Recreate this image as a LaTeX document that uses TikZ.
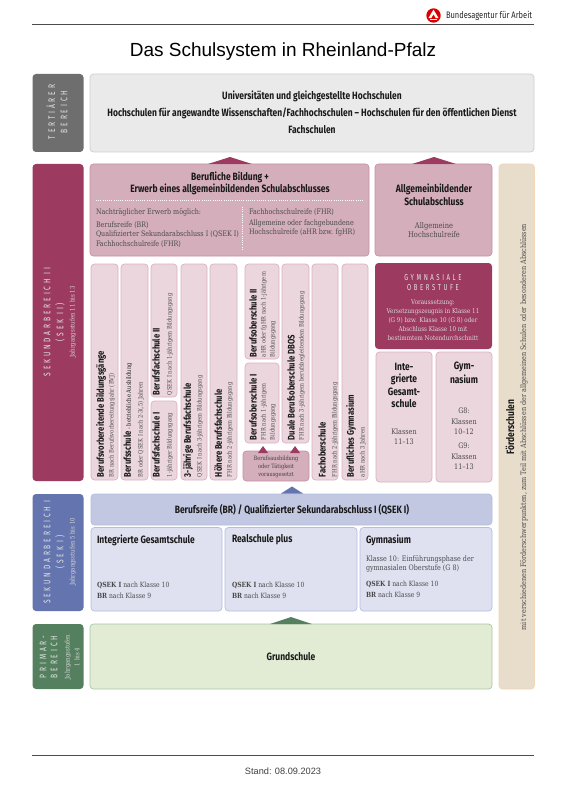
\documentclass[tikz,border=0pt]{standalone}
\usepackage{fontspec}
\setmainfont{Liberation Sans}
\newfontfamily\hd[FakeStretch=0.8]{Fira Sans}
\newfontfamily\lab[FakeStretch=0.8]{Fira Sans}
\newfontfamily\bd[FakeStretch=0.85]{DejaVu Serif}
\newfontfamily\spc[FakeStretch=0.7,LetterSpace=30]{Fira Sans}
\definecolor{cGray}{HTML}{6E6E6E}
\definecolor{cGrayL}{HTML}{EAEAEA}
\definecolor{cGrayB}{HTML}{CFCFCF}
\definecolor{cRed}{HTML}{9C3A60}
\definecolor{cPink}{HTML}{D4AEBB}
\definecolor{cPinkB}{HTML}{C98FA6}
\definecolor{cPinkL}{HTML}{EBD6DE}
\definecolor{cPinkLB}{HTML}{DDB0C2}
\definecolor{cBlue}{HTML}{6474AE}
\definecolor{cBlueM}{HTML}{C2C8E2}
\definecolor{cBlueL}{HTML}{DFE1F0}
\definecolor{cBlueB}{HTML}{B5BEDF}
\definecolor{cGreen}{HTML}{55805F}
\definecolor{cGreenL}{HTML}{E2ECD5}
\definecolor{cGreenB}{HTML}{A9C5A4}
\definecolor{cBeige}{HTML}{E8DCCB}
\definecolor{cBeigeB}{HTML}{F0D8B8}
\definecolor{cTxt}{HTML}{4A4A4A}
\tikzset{
  base/.style={rounded corners=3.5pt,inner sep=0pt,outer sep=0pt,line width=.7pt},
  gray side/.style={base,fill=cGray},
  gray box/.style={base,fill=cGrayL,draw=cGrayB},
  red side/.style={base,fill=cRed},
  pink box/.style={base,fill=cPink,draw=cPinkB},
  pinkl box/.style={base,fill=cPinkL,draw=cPinkLB},
  blue side/.style={base,fill=cBlue},
  bluem box/.style={base,fill=cBlueM,draw=cBlueB},
  bluel box/.style={base,fill=cBlueL,draw=cBlueB},
  green side/.style={base,fill=cGreen},
  green box/.style={base,fill=cGreenL,draw=cGreenB},
  beige box/.style={base,fill=cBeige,draw=cBeigeB},
  rule/.style={line width=1pt,color=black!70},
  txt/.style={inner sep=0pt,outer sep=0pt,align=center},
  tt/.style={txt,font=\hd\bfseries\fontsize{10.6}{12}\selectfont,text=black!90},
  ct/.style={txt,font=\hd\bfseries\fontsize{9.6}{11}\selectfont,text=black!90,rotate=90,anchor=west},
  bt/.style={txt,font=\bd\fontsize{7.5}{9}\selectfont,text=cTxt},
  qt/.style={txt,anchor=west,font=\bd\fontsize{7.1}{9}\selectfont,text=cTxt},
  mt/.style={txt,font=\bd\fontsize{7.6}{9}\selectfont,text=cTxt},
  wt/.style={txt,font=\bd\fontsize{6.6}{8}\selectfont,text=white!85!black},
  st/.style={txt,font=\bd\fontsize{6.1}{7}\selectfont,text=cTxt,rotate=90,anchor=west},
  sd/.style={txt,font=\spc\fontsize{9.5}{10}\selectfont,text=white!90!black},
  sds/.style={txt,font=\bd\fontsize{6.3}{7}\selectfont,text=white!85!black},
}
\newcount\tc
\newcommand\bx[6]{\node[#6,minimum width={(#4-#2)*1pt},minimum height={(#5-#3)*1pt}] (#1) at ({(#2+#4)/2},{(#3+#5)/2}) {};}
\newcommand\lb[4]{\global\advance\tc by 1 \node[#1] (t\the\tc) at (#2,#3) {#4};}
\newcommand\tri[4]{\fill[#4] ({#1-#3},{#2+7}) -- (#1,#2) -- ({#1+#3},{#2+7}) -- cycle;}
\begin{document}
\begin{tikzpicture}[x=1pt,y=-1pt]
\useasboundingbox (0,0) rectangle (566,794);
\fill[white] (0,0) rectangle (566,794);
% header
\coordinate (hl) at (32,25); \coordinate (hr) at (534,25);
\draw[rule] (hl) -- (hr);
\fill[red!85!black] (433.5,15.5) circle (7.2);
\fill[white] (433.5,9.6) -- (438.6,18.2) -- (435.8,18.2) -- (433.5,14.2) -- (431.2,18.2) -- (428.4,18.2) -- cycle;
\fill[white] (430,19) rectangle (437,20);
\lb{txt,anchor=west,font=\lab\fontsize{9.4}{10}\selectfont,text=black!85}{446}{15.5}{Bundesagentur für Arbeit}
\lb{txt,font=\fontsize{19}{22}\selectfont,text=black}{283}{52}{Das Schulsystem in Rheinland-Pfalz}
% tertiaer
\bx{ters}{32.5}{74}{83.5}{152}{gray side}
\bx{term}{90}{74}{534}{152}{gray box}
\lb{sd,rotate=90}{51}{112}{TERTIÄRER}
\lb{sd,rotate=90}{64}{112}{BEREICH}
\lb{tt}{312}{96}{Universitäten und gleichgestellte Hochschulen}
\lb{tt}{312}{113}{Hochschulen für angewandte Wissenschaften/Fachhochschulen – Hochschulen für den öffentlichen Dienst}
\lb{tt}{312}{130}{Fachschulen}
% sek II
\bx{seks}{32.5}{164}{83.5}{481}{red side}
\lb{sd,rotate=90}{47}{322}{SEKUNDARBEREICH II}
\lb{sd,rotate=90}{60}{322}{(SEK II)}
\lb{sds,rotate=90}{73}{322}{Jahrgangsstufen 11 bis 13}
\bx{bb}{90}{164}{369}{256}{pink box}
\bx{ab}{375}{164}{492}{256}{pink box}
\tri{230}{157}{22}{cRed}
\tri{434}{157}{22}{cRed}
\lb{tt}{230}{177}{Berufliche Bildung +}
\lb{tt}{230}{189}{Erwerb eines allgemeinbildenden Schulabschlusses}
\coordinate (dh1) at (96,200.7); \coordinate (dh2) at (363,200.7);
\draw[white,line width=1pt,dash pattern=on 1pt off 1.2pt] (dh1) -- (dh2);
\coordinate (dv1) at (242,207); \coordinate (dv2) at (242,250);
\draw[white,line width=1pt,dash pattern=on 1pt off 1.2pt] (dv1) -- (dv2);
\lb{bt,anchor=west}{96}{212}{Nachträglicher Erwerb möglich:}
\lb{bt,anchor=west}{96}{225}{Berufsreife (BR)}
\lb{bt,anchor=west}{96}{234.5}{Qualifizierter Sekundarabschluss I (QSEK I)}
\lb{bt,anchor=west}{96}{244}{Fachhochschulreife (FHR)}
\lb{bt,anchor=west}{249}{212}{Fachhochschulreife (FHR)}
\lb{bt,anchor=west}{249}{223}{Allgemeine oder fachgebundene}
\lb{bt,anchor=west}{249}{232}{Hochschulreife (aHR bzw. fgHR)}
\lb{tt}{434}{189}{Allgemeinbildender}
\lb{tt}{434}{202}{Schulabschluss}
\lb{mt,font=\bd\fontsize{7.9}{9}\selectfont}{434}{226}{Allgemeine}
\lb{mt,font=\bd\fontsize{7.9}{9}\selectfont}{434}{235}{Hochschulreife}
% Spalten
\bx{c1}{91}{264}{118}{480}{pinkl box}
\bx{c2}{121}{264}{148}{480}{pinkl box}
\bx{c3a}{151}{264}{177}{397}{pinkl box}
\bx{c3b}{151}{401}{177}{480}{pinkl box}
\bx{c4}{181}{264}{207}{480}{pinkl box}
\bx{c5}{210}{264}{237}{480}{pinkl box}
\bx{c6a}{245}{264}{279}{359}{pinkl box}
\bx{c6b}{245}{363}{279}{443}{pinkl box}
\bx{c7}{282}{264}{309}{443}{pinkl box}
\bx{c8}{312}{264}{338}{480}{pinkl box}
\bx{c9}{342}{264}{368}{480}{pinkl box}
\bx{ba}{243}{451}{309}{481}{pink box}
\tri{263}{446}{5}{cRed}
\tri{295}{446}{5}{cRed}
\lb{bt,font=\bd\fontsize{5.9}{8}\selectfont,text=black!75}{276}{467}{Berufsausbildung\\oder Tätigkeit\\vorausgesetzt}
\lb{ct}{101}{477}{Berufsvorbereitende Bildungsgänge}
\lb{st}{112}{477}{BR nach Berufsvorbereitungsjahr (BVJ)}
\lb{ct}{128}{477}{Berufsschule {\bd\mdseries\fontsize{6.1}{7}\selectfont - betriebliche Ausbildung}}
\lb{st}{141}{477}{BR oder QSEK I nach 2-3(,5) Jahren}
\lb{ct}{156}{477}{Berufsfachschule I}
\lb{st}{170}{477}{1-jähriger Bildungsgang}
\lb{ct}{156}{395}{Berufsfachschule II}
\lb{st}{170}{395}{QSEK I nach 1-jährigem Bildungsgang}
\lb{ct}{188}{477}{3-jährige Berufsfachschule}
\lb{st}{200}{477}{QSEK I nach 3-jährigem Bildungsgang}
\lb{ct}{218}{477}{Höhere Berufsfachschule}
\lb{st}{230}{477}{FHR nach 2-jährigem Bildungsgang}
\lb{ct}{253}{357}{Berufsoberschule II}
\lb{st}{264}{357}{aHR oder fgHR nach 1-jährigem}
\lb{st}{273}{357}{Bildungsgang}
\lb{ct}{253}{440}{Berufsoberschule I}
\lb{st}{264}{440}{FHR nach 1-jährigem}
\lb{st}{273}{440}{Bildungsgang}
\lb{ct}{291}{440}{Duale Berufsoberschule DBOS}
\lb{st}{302}{440}{FHR nach 3-jährigem berufsbegleitendem Bildungsgang}
\lb{ct}{322}{477}{Fachoberschule}
\lb{st}{335}{477}{FHR nach 2-jährigem Bildungsgang}
\lb{ct}{351}{477}{Berufliches Gymnasium}
\lb{st}{363}{477}{aHR nach 3 Jahren}
% Gymnasiale Oberstufe
\bx{go}{375}{263}{492}{349}{red side}
\lb{sd,font=\spc\fontsize{8.6}{9}\selectfont}{433}{278}{GYMNASIALE}
\lb{sd,font=\spc\fontsize{8.6}{9}\selectfont}{433}{287.5}{OBERSTUFE}
\lb{wt}{433}{303}{Voraussetzung:}
\lb{wt}{433}{312}{Versetzungszeugnis in Klasse 11}
\lb{wt}{433}{321}{(G 9) bzw. Klasse 10 (G 8) oder}
\lb{wt}{433}{329.5}{Abschluss Klasse 10 mit}
\lb{wt}{433}{338}{bestimmtem Notendurchschnitt}
\bx{igs2}{376}{352}{432}{482}{pinkl box}
\bx{gy2}{436}{352}{492}{482}{pinkl box}
\lb{tt}{404}{367}{Inte-}
\lb{tt}{404}{379.5}{grierte}
\lb{tt}{404}{392}{Gesamt-}
\lb{tt}{404}{404}{schule}
\lb{mt}{404}{432}{Klassen}
\lb{mt}{404}{442}{11–13}
\lb{tt}{464}{367}{Gym-}
\lb{tt}{464}{379.5}{nasium}
\lb{mt}{464}{411}{G8:}
\lb{mt}{464}{422}{Klassen}
\lb{mt}{464}{432}{10–12}
\lb{mt}{464}{446}{G9:}
\lb{mt}{464}{457}{Klassen}
\lb{mt}{464}{467}{11–13}
% Foerder
\bx{fo}{499}{164}{534.5}{689}{beige box}
\lb{tt,rotate=90}{510}{427}{Förderschulen}
\lb{mt,rotate=90}{524}{427}{mit verschiedenen Förderschwerpunkten, zum Teil mit Abschlüssen der allgemeinen Schulen oder besonderen Abschlüssen}
% Sek I
\bx{s1s}{32.5}{494}{83.5}{611}{blue side}
\lb{sd,rotate=90}{47}{552}{SEKUNDARBEREICH I}
\lb{sd,rotate=90}{60}{552}{(SEK I)}
\lb{sds,rotate=90}{73}{552}{Jahrgangsstufen 5 bis 10}
\bx{br}{91}{494}{492}{525}{bluem box}
\tri{292}{486.5}{11}{cBlue}
\lb{tt}{292}{510}{Berufsreife (BR) / Qualifizierter Sekundarabschluss I (QSEK I)}
\bx{s1a}{91}{527.5}{222}{611}{bluel box}
\bx{s1b}{225}{527.5}{357}{611}{bluel box}
\bx{s1c}{360}{527.5}{492}{611}{bluel box}
\lb{tt,anchor=west}{97}{540}{Integrierte Gesamtschule}
\lb{tt,anchor=west}{232}{540}{Realschule plus}
\lb{tt,anchor=west}{366}{540}{Gymnasium}
\lb{qt}{97}{585}{\textbf{QSEK I} nach Klasse 10}
\lb{qt}{97}{596}{\textbf{BR} nach Klasse 9}
\lb{qt}{232}{585}{\textbf{QSEK I} nach Klasse 10}
\lb{qt}{232}{596}{\textbf{BR} nach Klasse 9}
\lb{bt,anchor=west}{366}{559}{Klasse 10: Einführungsphase der}
\lb{bt,anchor=west}{366}{568.5}{gymnasialen Oberstufe (G 8)}
\lb{qt}{366}{584}{\textbf{QSEK I} nach Klasse 10}
\lb{qt}{366}{595}{\textbf{BR} nach Klasse 9}
% Primar
\bx{ps}{32.5}{624}{83.5}{689}{green side}
\lb{sd,rotate=90}{43}{657}{PRIMAR-}
\lb{sd,rotate=90}{54}{657}{BEREICH}
\lb{sds,rotate=90}{68}{657}{Jahrgangsstufen}
\lb{sds,rotate=90}{77}{657}{1 bis 4}
\bx{gs}{90}{624}{492}{689}{green box}
\tri{291}{617}{21}{cGreen}
\lb{tt}{291}{657}{Grundschule}
% footer
\coordinate (fl) at (32,755); \coordinate (fr) at (534,755);
\draw[rule] (fl) -- (fr);
\lb{txt,font=\fontsize{9.2}{10}\selectfont,text=black!75}{283}{771}{Stand: 08.09.2023}
\end{tikzpicture}
\end{document}
